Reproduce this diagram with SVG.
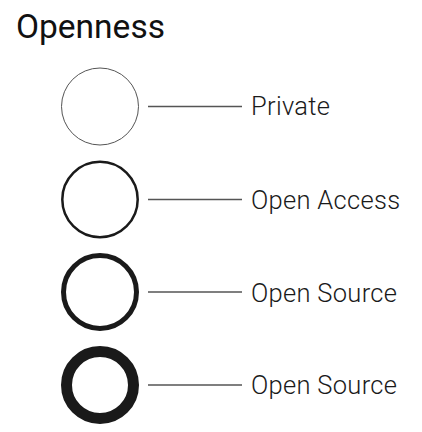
<svg xmlns="http://www.w3.org/2000/svg" width="422" height="432" viewBox="0 0 422 432">
<style>
.ring{fill:none;stroke:#1a1a1a}
.lbl{font-family:Roboto,"Liberation Sans",sans-serif;font-weight:300;font-size:25.5px;fill:#1a1a1a;letter-spacing:0.3px}
.conn line{stroke:#555;stroke-width:1.3}
</style>
<rect width="422" height="432" fill="#fff"/>
<text x="16" y="38" font-family="Roboto,'Liberation Sans',sans-serif" font-size="33.5" fill="#111">Openness</text>
<g class="conn">
<line x1="148" y1="106.5" x2="242" y2="106.5"/>
<line x1="148" y1="199.5" x2="242" y2="199.5"/>
<line x1="148" y1="292" x2="242" y2="292"/>
<line x1="148" y1="385" x2="242" y2="385"/>
</g>
<g id="private"><circle class="ring" cx="100" cy="106.5" r="38.5" stroke-width="1" style="stroke:#555"/><text class="lbl" x="251" y="115">Private</text></g>
<g id="open-access"><circle class="ring" cx="100" cy="199.5" r="37.7" stroke-width="2.5"/><text class="lbl" x="251" y="208.5">Open Access</text></g>
<g id="open-source-1"><circle class="ring" cx="100" cy="292" r="36.5" stroke-width="5"/><text class="lbl" x="251" y="302">Open Source</text></g>
<g id="open-source-2"><circle class="ring" cx="100" cy="385" r="33.5" stroke-width="11"/><text class="lbl" x="251" y="394">Open Source</text></g>
</svg>
